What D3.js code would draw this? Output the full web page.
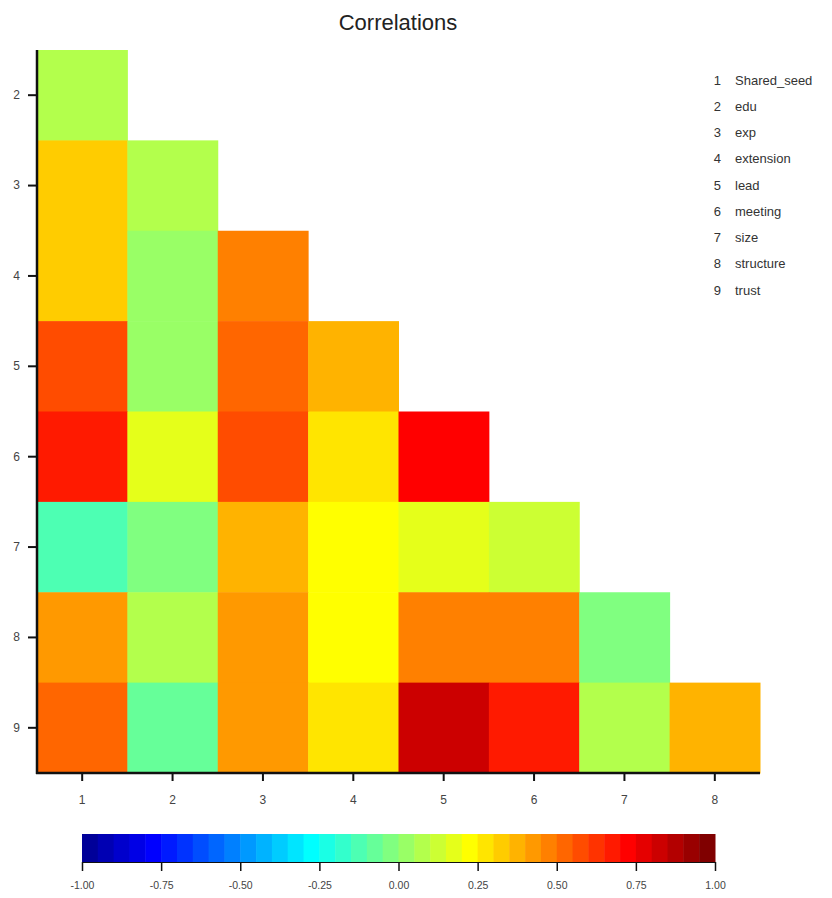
<!DOCTYPE html>
<html>
<head>
<meta charset="utf-8">
<script src="https://cdn.jsdelivr.net/npm/d3@7"></script>
<style>
  body { margin: 0; background: #fff; }
  svg { display: block; font-family: "Liberation Sans", Arial, sans-serif; }
</style>
</head>
<body>
<svg id="chart" width="832" height="898"></svg>
<script>
// ---- data ----
const variables = ["Shared_seed", "edu", "exp", "extension", "lead", "meeting", "size", "structure", "trust"];
const colIds = [1, 2, 3, 4, 5, 6, 7, 8];
const rowIds = [2, 3, 4, 5, 6, 7, 8, 9];
// lower triangle: row r has correlations with columns 1..r-1
const row2 = [0.07];
const row3 = [0.32, 0.08];
const row4 = [0.33, 0.03, 0.47];
const row5 = [0.57, 0.04, 0.52, 0.37];
const row6 = [0.67, 0.17, 0.57, 0.27, 0.72];
const row7 = [-0.12, -0.03, 0.37, 0.22, 0.17, 0.12];
const row8 = [0.42, 0.08, 0.42, 0.22, 0.47, 0.47, -0.02];
const row9 = [0.52, -0.07, 0.42, 0.27, 0.82, 0.67, 0.07, 0.37];
const rowsData = [row2, row3, row4, row5, row6, row7, row8, row9];
const colorbarTicks = [-1, -0.75, -0.5, -0.25, 0, 0.25, 0.5, 0.75, 1];
const nLevels = 40;

(function () {
// ---- colormap (jet) ----
function clamp(v) { return Math.max(0, Math.min(1, v)); }
function jet(t) {
  const r = clamp(1.5 - Math.abs(4 * t - 3));
  const g = clamp(1.5 - Math.abs(4 * t - 2));
  const b = clamp(1.5 - Math.abs(4 * t - 1));
  return d3.rgb(r * 255, g * 255, b * 255).formatHex();
}
const levelColors = d3.range(nLevels).map(k => jet((k + 1) / nLevels));
const color = d3.scaleQuantize().domain([-1, 1]).range(levelColors);

const cells = [];
rowsData.forEach((vals, i) => {
  vals.forEach((v, j) => cells.push({ row: rowIds[i], col: colIds[j], value: v }));
});

// ---- layout ----
const svg = d3.select("#chart");
const pLeft = 37, pRight = 760, pTop = 50, pBottom = 773;

const x = d3.scaleBand().domain(colIds).range([pLeft, pRight]).padding(0);
const y = d3.scaleBand().domain(rowIds).range([pTop, pBottom]).padding(0);

svg.append("text")
  .attr("x", 398).attr("y", 30)
  .attr("text-anchor", "middle")
  .attr("font-size", 22)
  .attr("fill", "#222")
  .text("Correlations");

svg.append("g").selectAll("rect")
  .data(cells)
  .join("rect")
  .attr("x", d => x(d.col))
  .attr("y", d => y(d.row))
  .attr("width", x.bandwidth() + 0.5)
  .attr("height", y.bandwidth() + 0.5)
  .attr("fill", d => color(d.value));

// axes
const xAxis = svg.append("g")
  .attr("transform", `translate(0,${pBottom})`)
  .call(d3.axisBottom(x).tickSize(8).tickSizeOuter(0).tickPadding(14));
const yAxis = svg.append("g")
  .attr("transform", `translate(${pLeft},0)`)
  .call(d3.axisLeft(y).tickSize(9).tickSizeOuter(0).tickPadding(8));

[xAxis, yAxis].forEach(g => {
  g.select(".domain").attr("stroke", "#111").attr("stroke-width", 2.5);
  g.selectAll(".tick line").attr("stroke", "#111").attr("stroke-width", 2);
  g.selectAll(".tick text").attr("fill", "#444").attr("font-size", 12)
    .attr("font-family", "Liberation Sans, Arial, sans-serif");
});
xAxis.select(".domain").attr("d", `M${pLeft - 1},0H${pRight}`);
yAxis.select(".domain").attr("d", `M0,${pTop}V${pBottom + 1}`);

// legend
const legend = svg.append("g");
const ly = d3.scaleLinear().domain([0, variables.length - 1]).range([80, 290]);
variables.forEach((name, i) => {
  legend.append("text")
    .attr("x", 721).attr("y", ly(i)).attr("dy", "0.35em")
    .attr("text-anchor", "end")
    .attr("font-size", 13).attr("fill", "#333")
    .text(i + 1);
  legend.append("text")
    .attr("x", 735).attr("y", ly(i)).attr("dy", "0.35em")
    .attr("font-size", 13).attr("fill", "#333")
    .text(name);
});

// colorbar
const cbTop = 834, cbBottom = 862;
const cx = d3.scaleLinear().domain([-1, 1]).range([82, 715]);
const bins = d3.range(nLevels).map(k => ({ lo: -1 + 2 * k / nLevels, hi: -1 + 2 * (k + 1) / nLevels, c: levelColors[k] }));
svg.append("g").selectAll("rect")
  .data(bins)
  .join("rect")
  .attr("x", d => cx(d.lo))
  .attr("y", cbTop)
  .attr("width", d => cx(d.hi) - cx(d.lo) + 0.5)
  .attr("height", cbBottom - cbTop)
  .attr("fill", d => d.c);

const cbAxis = svg.append("g")
  .attr("transform", `translate(0,${cbBottom})`)
  .call(d3.axisBottom(cx).tickValues(colorbarTicks).tickSize(9).tickSizeOuter(0).tickPadding(11));
cbAxis.select(".domain").attr("stroke", "#111").attr("stroke-width", 1.2);
cbAxis.selectAll(".tick line").attr("stroke", "#111").attr("stroke-width", 1.5);
cbAxis.selectAll(".tick text").attr("fill", "#444").attr("font-size", 10.5)
  .attr("font-family", "Liberation Sans, Arial, sans-serif")
  .text(d => d3.format(".2f")(d).replace("\u2212", "-"));
})();
</script>
</body>
</html>
